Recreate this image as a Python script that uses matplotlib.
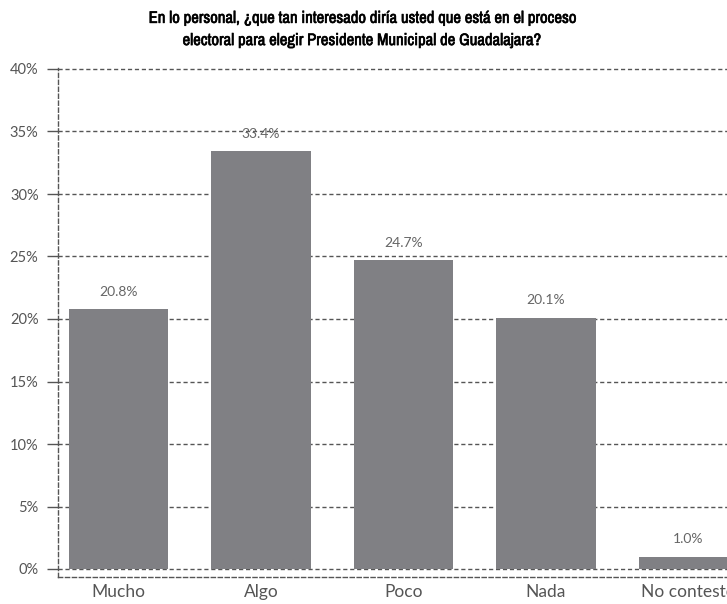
import matplotlib.pyplot as plt
import matplotlib.patheffects as pe
from matplotlib import font_manager

categorias = ['Mucho', 'Algo', 'Poco', 'Nada', 'No contestó']
valores = [20.8, 33.4, 24.7, 20.1, 1.0]
etiquetas = ['20.8%', '33.4%', '24.7%', '20.1%', '1.0%']
yticks = [0, 5, 10, 15, 20, 25, 30, 35, 40]
titulo = ('En lo personal, ¿que tan interesado diría usted que está en el proceso\n'
          'electoral para elegir Presidente Municipal de Guadalajara?')

# buscar una fuente angosta para el titulo
names = sorted({f.name for f in font_manager.fontManager.ttflist})
angostas = [n for n in names if 'Narrow' in n or 'Condensed' in n]
title_font = angostas[0] if angostas else 'Roboto'

gris = '#808084'
texto = '#555555'
linea = '#555555'

fig = plt.figure(figsize=(7.27, 6.04), dpi=100)
ax = fig.add_axes([58/727, 1 - 577/604, 1 - 58/727, (577 - 68)/604])

x = range(len(categorias))
ax.bar(x, valores, width=0.7, color=gris, zorder=3)
for i, v in enumerate(valores):
    ax.text(i, v + 0.9, etiquetas[i], ha='center', va='bottom',
            fontsize=10, color='#666666', family='Lato', zorder=4)

ax.set_xlim(-0.425, 4.27)
ax.set_ylim(-0.64, 40.08)
ax.set_yticks(yticks)
ax.set_yticklabels(['%d%%' % t for t in yticks], family='Lato',
                   fontsize=10.5, color=texto)
ax.set_xticks(list(x))
ax.set_xticklabels(categorias, family='Lato', fontsize=12.5, color=texto)
ax.tick_params(axis='x', length=0, pad=5)
ax.tick_params(axis='y', length=8, color=linea, width=1, pad=6)

ax.grid(True, axis='y', linestyle=(0, (3, 2)), color=linea, linewidth=1, zorder=1)
for s in ['top', 'right']:
    ax.spines[s].set_visible(False)
for s in ['left', 'bottom']:
    ax.spines[s].set_linestyle((0, (3, 2)))
    ax.spines[s].set_color(linea)
    ax.spines[s].set_linewidth(1)

fig.text(0.498, 0.982, titulo, ha='center', va='top', fontsize=12 if angostas else 10.5,
         fontweight='bold', family=title_font, color='black', linespacing=1.6,
         path_effects=[pe.withStroke(linewidth=0.45, foreground='black')])

fig.savefig('out.png', dpi=100)
